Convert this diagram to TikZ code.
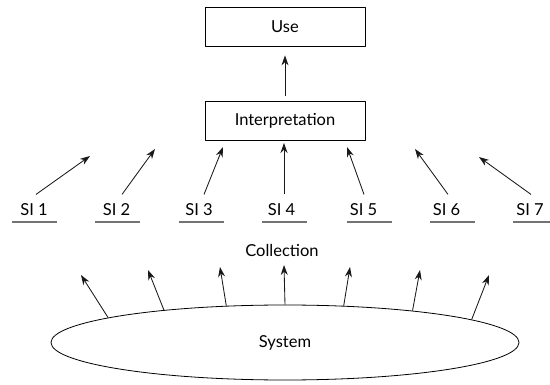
\documentclass[tikz,border=0pt]{standalone}
\usepackage{fontspec}
\setmainfont{Lato}
\usetikzlibrary{arrows.meta,shapes.geometric}
\begin{document}
\begin{tikzpicture}[x=1pt, y=-1pt, line join=round, >={Stealth[length=10pt,width=7pt]}]
	\tikzset{every node/.style={font=\fontsize{16.5}{18}\selectfont},
		box/.style={draw, line width=0.8pt, minimum width=160pt, minimum height=39pt, inner sep=0pt},
		arr/.style={->, line width=0.85pt, black!90},
		uline/.style={line width=1.1pt, black!55}}
	\useasboundingbox (0,0) rectangle (550,385);
	\node[box] (use) at (285,26.5) {Use};
	\node[box] (interp) at (285,121) {Interpretation};
	\draw[arr] ([yshift=5pt]interp.north) -- ([yshift=-9pt]use.south);
	% indicators
	\foreach \i/\x/\u/\dx/\tx/\ty in {1/34/34.5/2/90/156, 2/116.5/117.5/5.5/155/149, 3/199/201/5/223/147,
		4/281.5/284.5/2.5/284/143, 5/363.5/369/0.5/347/147, 6/446.5/452.5/1.5/415/149, 7/530/535.5/1/479/157}{
		\node (si\i) at (\x,210) {SI \i};
		\draw[uline] (\u-22.5,222) -- (\u+22.5,222);
		\coordinate (t\i) at (\tx,\ty);
		\draw[arr] ([xshift=\dx pt, yshift=6pt]si\i.north) -- (t\i);
	}
	\node (coll) at (282,250) {Collection};
	\node[ellipse, draw, line width=0.8pt, minimum width=468pt, minimum height=75pt, inner sep=0pt] (sys) at (285,342.5) {System};
	\foreach \a/\tx/\ty [count=\j] in {172.5/81/275, 165.3/148/270, 148/220/267, 90/284/265, 32/350/267, 14.7/420/270, 7.5/489/275}{
		\coordinate (c\j) at (\tx,\ty);
		\draw[arr] (sys.\a) -- (c\j);
	}
\end{tikzpicture}
\end{document}
